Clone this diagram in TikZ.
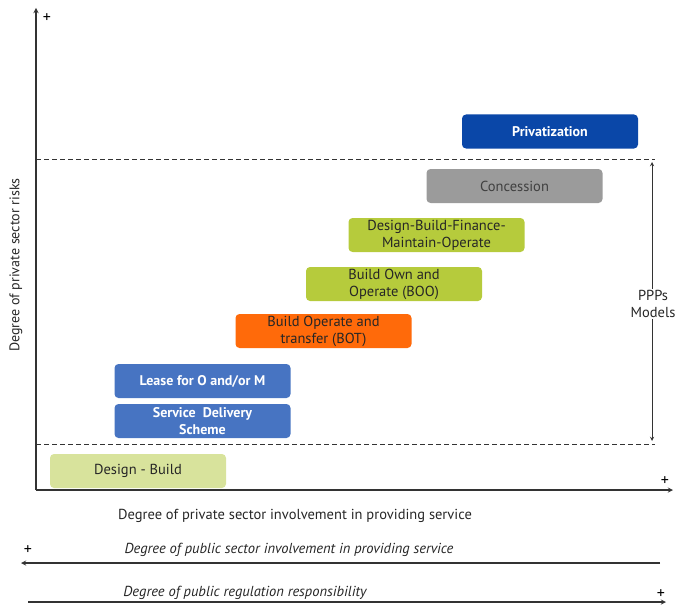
\documentclass[tikz,border=0pt]{standalone}
\usepackage{fontspec}
\setmainfont{PT Sans}
\usetikzlibrary{arrows,positioning}
\definecolor{privblue}{HTML}{0A47A8}
\definecolor{concgray}{HTML}{9B9B9B}
\definecolor{pppgreen}{HTML}{B6CB3C}
\definecolor{botorange}{HTML}{FF6A0A}
\definecolor{leaseblue}{HTML}{4774C2}
\definecolor{dbgreen}{HTML}{D8E39C}
\definecolor{axisgray}{HTML}{333333}
\tikzset{
     model/.style={rounded corners=4pt, minimum width=176pt, minimum height=34pt,
        align=center, font=\fontsize{14.5}{17}\selectfont, inner sep=1pt},
      axis/.style   = {axisgray, ->, >=stealth, line width=1.3pt},
      bound/.style = {axisgray, dashed, dash pattern=on 5pt off 3pt, line width=0.8pt},
      span/.style = {axisgray, ->, >=stealth, line width=0.9pt},
      caption/.style = {font=\fontsize{14.5}{17}\selectfont, text=black!85},
      plus/.style = {font=\fontsize{16}{16}\selectfont, inner sep=0pt},
    }

\begin{document}
\begin{tikzpicture}[x=1pt,y=-1pt]
        \useasboundingbox (0,0) rectangle (677,607);
        % axes
        \coordinate (O) at (36,490);
        \coordinate (ytop) at (36,8);
        \coordinate (xend) at (673,490);
        \draw [axis] (O) -- (ytop);
        \draw [axis] (O) -- (xend);
        \node [plus] (yplus) at (47,18) {+};
        \node [plus] (xplus) at (665,481) {+};
        \node [caption, rotate=90, font=\fontsize{14}{16}\selectfont] (ylab) at (16,265) {Degree of private sector risks};
        \node [caption] (xlab) at (295,516) {Degree of private sector involvement in providing service};

        % PPP band
        \coordinate (hi l) at (36,159);
        \coordinate (hi r) at (655,159);
        \coordinate (lo l) at (36,444);
        \coordinate (lo r) at (655,444);
        \draw [bound] (hi l) -- (hi r);
        \draw [bound] (lo l) -- (lo r);
        \node [caption, align=center, inner sep=1pt] (ppp) at (653,304) {PPPs\\Models};
        \coordinate (span top) at (652,162);
        \coordinate (span bot) at (652,441);
        \draw [span] (ppp.north -| span top) -- (span top);
        \draw [span] (ppp.south -| span bot) -- (span bot);

        % models
        \node [model, fill=privblue, text=white, font=\fontsize{14}{17}\selectfont\bfseries] (priv) at (550,131.5) {Privatization};
        \node [model, fill=concgray, text=black!75] (conc) at (514.5,186) {Concession};
        \node [model, fill=pppgreen, text=black!85] (dbfmo) at (436.5,235) {Design-Build-Finance-\\Maintain-Operate};
        \node [model, fill=pppgreen, text=black!85] (boo) at (394,284) {Build Own and\\Operate (BOO)};
        \node [model, fill=botorange, text=black!85] (bot) at (323.5,331) {Build Operate and\\transfer (BOT)};
        \node [model, fill=leaseblue, text=white, font=\fontsize{14}{17}\selectfont\bfseries] (lease) at (202.5,381) {Lease for O and/or M};
        \node [model, fill=leaseblue, text=white, font=\fontsize{14}{17}\selectfont\bfseries] (sds) at (202.5,421) {Service\ \ Delivery\\Scheme};
        \node [model, fill=dbgreen, text=black!85] (db) at (138,471) {Design - Build};

        % public sector scales
        \node [plus] (lplus) at (28,550) {+};
        \node [caption, font=\fontsize{14.5}{17}\selectfont\itshape] (pubinv) at (289,550) {Degree of public sector involvement in providing service};
        \coordinate (pub r) at (660,563);
        \coordinate (pub l) at (21,563);
        \draw [axis] (pub r) -- (pub l);
        \node [caption, font=\fontsize{14.5}{17}\selectfont\itshape] (pubreg) at (245,593) {Degree of public regulation responsibility};
        \node [plus] (rplus) at (661,594) {+};
        \coordinate (reg l) at (28,602);
        \coordinate (reg r) at (666,602);
        \draw [axis] (reg l) -- (reg r);
    \end{tikzpicture}
\end{document}
